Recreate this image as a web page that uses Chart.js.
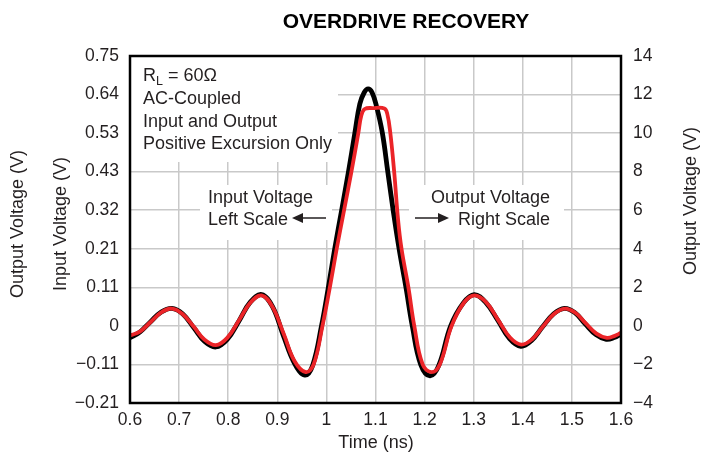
<!DOCTYPE html>
<html>
<head>
<meta charset="utf-8">
<script src="https://cdn.jsdelivr.net/npm/chart.js@4.4.0/dist/chart.umd.min.js"></script>
<style>
  body { margin: 0; background: #fff; }
</style>
</head>
<body>
<canvas id="chart" width="711" height="455"></canvas>
<script>
// tick positions and labels
const timeTicks = [0.6, 0.7, 0.8, 0.9, 1.0, 1.1, 1.2, 1.3, 1.4, 1.5, 1.6];
const inputTicks = [-0.21, -0.1033, 0.0033, 0.11, 0.2167, 0.3233, 0.43, 0.5367, 0.6433, 0.75];
const inputTickLabels = ['−0.21', '−0.11', '0', '0.11', '0.21', '0.32', '0.43', '0.53', '0.64', '0.75'];
const outputTicks = [-4, -2, 0, 2, 4, 6, 8, 10, 12, 14];

// input voltage (black, left scale, V)
const inputTime = [0.600, 0.620, 0.642, 0.663, 0.685, 0.707, 0.730, 0.752, 0.775, 0.798,
  0.822, 0.845, 0.868, 0.890, 0.912, 0.935, 0.956, 0.972, 0.990, 1.004,
  1.017, 1.031, 1.045, 1.058, 1.068, 1.077, 1.085, 1.093, 1.102, 1.114,
  1.125, 1.136, 1.148, 1.162, 1.175, 1.192, 1.211, 1.229, 1.253, 1.279,
  1.301, 1.324, 1.349, 1.373, 1.396, 1.418, 1.440, 1.463, 1.485, 1.506,
  1.527, 1.549, 1.570, 1.586, 1.600];
const inputVolt = [-0.029, -0.014, 0.015, 0.041, 0.052, 0.037, -0.002, -0.040, -0.055, -0.034,
  0.017, 0.069, 0.090, 0.057, -0.022, -0.100, -0.133, -0.106, 0.003, 0.110,
  0.217, 0.323, 0.430, 0.537, 0.617, 0.649, 0.659, 0.649, 0.611, 0.537,
  0.430, 0.323, 0.217, 0.110, 0.003, -0.103, -0.135, -0.106, 0.003, 0.067,
  0.090, 0.069, 0.019, -0.032, -0.053, -0.037, 0.000, 0.037, 0.052, 0.040,
  0.009, -0.021, -0.034, -0.029, -0.019];

// output voltage (red, right scale, V)
const outputTime = [0.600, 0.620, 0.642, 0.663, 0.685, 0.707, 0.730, 0.752, 0.775, 0.798,
  0.822, 0.845, 0.868, 0.890, 0.913, 0.935, 0.958, 0.974, 0.992, 1.007,
  1.021, 1.036, 1.051, 1.065, 1.071, 1.078, 1.095, 1.118, 1.124, 1.130,
  1.138, 1.146, 1.153, 1.167, 1.179, 1.196, 1.214, 1.231, 1.255, 1.280,
  1.302, 1.326, 1.350, 1.374, 1.397, 1.419, 1.441, 1.464, 1.486, 1.507,
  1.528, 1.550, 1.571, 1.586, 1.600];
const outputVolt = [-0.50, -0.30, 0.20, 0.69, 0.90, 0.62, -0.05, -0.72, -1.00, -0.62,
  0.29, 1.20, 1.58, 1.00, -0.41, -1.82, -2.40, -2.00, 0.00, 2.00,
  4.00, 6.00, 8.00, 10.00, 10.90, 11.25, 11.30, 11.28, 11.00, 10.05,
  8.00, 5.50, 4.00, 2.00, 0.00, -2.00, -2.40, -2.00, 0.00, 1.20,
  1.58, 1.21, 0.30, -0.60, -0.97, -0.69, -0.03, 0.63, 0.90, 0.68,
  0.14, -0.40, -0.62, -0.53, -0.36];

const FONT = 'Liberation Sans, Arial, Helvetica, sans-serif';
const INK = '#231f20';
const GRID = '#c9c9c9';

Chart.defaults.font.family = FONT;
Chart.defaults.font.size = 17.5;
Chart.defaults.color = INK;

function arrow(ctx, x1, x2, y) {
  const dir = x2 > x1 ? 1 : -1;
  ctx.beginPath();
  ctx.moveTo(x1, y);
  ctx.lineTo(x2 - dir * 9, y);
  ctx.lineWidth = 1.5;
  ctx.strokeStyle = INK;
  ctx.stroke();
  ctx.beginPath();
  ctx.moveTo(x2, y);
  ctx.lineTo(x2 - dir * 11, y - 5);
  ctx.lineTo(x2 - dir * 11, y + 5);
  ctx.closePath();
  ctx.fillStyle = INK;
  ctx.fill();
}

const decor = {
  id: 'decor',
  beforeDatasetsDraw(chart) {
    const ctx = chart.ctx;
    ctx.save();
    ctx.fillStyle = '#fff';
    ctx.fillRect(131, 57, 207, 105);
    ctx.fillRect(200, 185, 132, 55);
    ctx.fillRect(409, 185, 155, 55);
    ctx.restore();
  },
  afterDatasetsDraw(chart) {
    const { ctx, chartArea: a } = chart;
    ctx.save();
    ctx.strokeStyle = '#000';
    ctx.lineWidth = 2.5;
    ctx.strokeRect(a.left, a.top, a.right - a.left, a.bottom - a.top);
    ctx.restore();
  },
  afterDraw(chart) {
    const ctx = chart.ctx;
    ctx.save();
    ctx.fillStyle = '#000';
    ctx.font = 'bold 21px ' + FONT;
    ctx.textAlign = 'center';
    ctx.textBaseline = 'middle';
    ctx.fillText('OVERDRIVE RECOVERY', 406, 22);

    ctx.fillStyle = INK;
    ctx.font = '18px ' + FONT;
    ctx.fillText('Time (ns)', 376, 443);

    const vert = (text, x, y) => {
      ctx.save();
      ctx.translate(x, y);
      ctx.rotate(-Math.PI / 2);
      ctx.fillText(text, 0, 0);
      ctx.restore();
    };
    vert('Output Voltage (V)', 18, 224);
    vert('Input Voltage (V)', 61, 224);
    vert('Output Voltage (V)', 691, 201);

    // note block
    ctx.textAlign = 'left';
    ctx.textBaseline = 'alphabetic';
    ctx.fillText('R', 143, 81);
    let x = 143 + ctx.measureText('R').width;
    ctx.font = '12.5px ' + FONT;
    ctx.fillText('L', x, 85);
    x += ctx.measureText('L').width;
    ctx.font = '18px ' + FONT;
    ctx.fillText(' = 60Ω', x, 81);
    ctx.fillText('AC-Coupled', 143, 104);
    ctx.fillText('Input and Output', 143, 127);
    ctx.fillText('Positive Excursion Only', 143, 149);

    ctx.fillText('Input Voltage', 208, 203);
    ctx.fillText('Left Scale', 208, 225);
    arrow(ctx, 326, 292, 218);

    ctx.textAlign = 'right';
    ctx.fillText('Output Voltage', 550, 203);
    ctx.fillText('Right Scale', 550, 225);
    arrow(ctx, 415, 449, 218);
    ctx.restore();
  }
};

new Chart(document.getElementById('chart'), {
  type: 'line',
  data: {
    datasets: [
      {
        label: 'Output Voltage',
        data: outputTime.map((t, i) => ({ x: t, y: outputVolt[i] })),
        yAxisID: 'yOut',
        borderColor: 'rgb(235, 36, 40)',
        borderWidth: 3.8,
        pointRadius: 0,
        tension: 0.4,
        borderJoinStyle: 'round',
        borderCapStyle: 'round',
        order: 1
      },
      {
        label: 'Input Voltage',
        data: inputTime.map((t, i) => ({ x: t, y: inputVolt[i] })),
        yAxisID: 'yIn',
        borderColor: '#000',
        borderWidth: 4.8,
        pointRadius: 0,
        tension: 0.4,
        borderJoinStyle: 'round',
        borderCapStyle: 'round',
        order: 2
      }
    ]
  },
  options: {
    responsive: false,
    animation: false,
    devicePixelRatio: 1,
    layout: { padding: { top: 56, left: 0, right: 0, bottom: 0 } },
    plugins: {
      legend: { display: false },
      tooltip: { enabled: false }
    },
    scales: {
      x: {
        type: 'linear',
        position: 'bottom',
        min: 0.6,
        max: 1.6,
        afterBuildTicks: s => { s.ticks = timeTicks.map(v => ({ value: v })); },
        afterFit: s => { s.height = 52; },
        ticks: { padding: 7, callback: v => String(Number(v.toFixed(1))) },
        grid: { color: GRID, lineWidth: 1.5, drawTicks: false },
        border: { display: false }
      },
      yIn: {
        type: 'linear',
        position: 'left',
        min: -0.21,
        max: 0.75,
        afterBuildTicks: s => { s.ticks = inputTicks.map(v => ({ value: v })); },
        afterFit: s => { s.width = 130; },
        ticks: { padding: 11, callback: (v, i) => inputTickLabels[i] },
        grid: { color: GRID, lineWidth: 1.5, drawTicks: false },
        border: { display: false }
      },
      yOut: {
        type: 'linear',
        position: 'right',
        min: -4,
        max: 14,
        afterBuildTicks: s => { s.ticks = outputTicks.map(v => ({ value: v })); },
        afterFit: s => { s.width = 90; },
        ticks: { padding: 12, callback: v => String(v).replace('-', '−') },
        grid: { display: false, drawTicks: false },
        border: { display: false }
      }
    }
  },
  plugins: [decor]
});
</script>
</body>
</html>
